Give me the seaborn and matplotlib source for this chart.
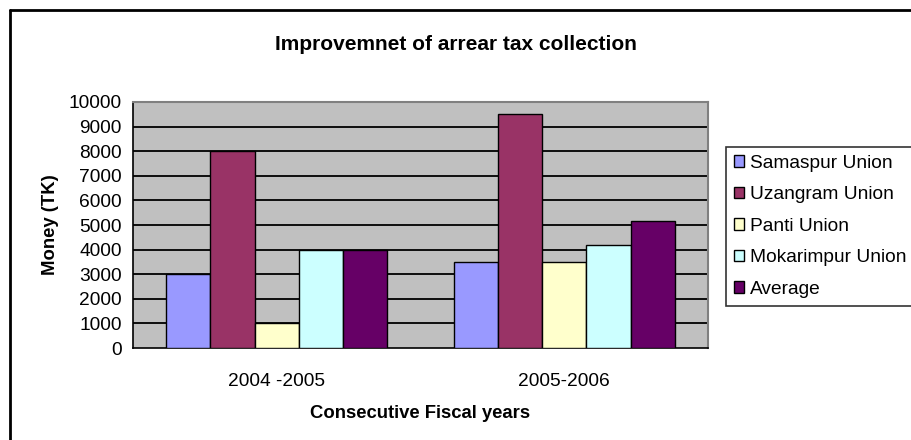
import matplotlib
matplotlib.use("Agg")
import matplotlib.pyplot as plt
import seaborn as sns
import pandas as pd
from matplotlib.lines import Line2D

years = ["2004 -2005", "2005-2006"]
series = ["Samaspur Union", "Uzangram Union", "Panti Union", "Mokarimpur Union", "Average"]
samaspur = [3000, 3500]
uzangram = [8000, 9500]
panti = [1000, 3500]
mokarimpur = [4000, 4200]
average = [4000, 5175]
colors = ["#9999FF", "#993366", "#FFFFCC", "#CCFFFF", "#660066"]

values = [samaspur, uzangram, panti, mokarimpur, average]
rows = []
for s, vals in zip(series, values):
    for y, v in zip(years, vals):
        rows.append({"Year": y, "Series": s, "Value": v})
df = pd.DataFrame(rows)

sns.set_style("white")
plt.rcParams["font.family"] = ["Liberation Sans", "DejaVu Sans"]
plt.rcParams["text.color"] = "black"
plt.rcParams["axes.labelcolor"] = "black"
plt.rcParams["xtick.color"] = "black"
plt.rcParams["ytick.color"] = "black"

fig = plt.figure(figsize=(9.12, 4.4), dpi=100)
ax = fig.add_axes([133/912, 1-348/440, (708-133)/912, (348-102)/440])
ax.set_facecolor("#C0C0C0")

sns.barplot(data=df, x="Year", y="Value", hue="Series", order=years, hue_order=series,
            palette=colors, edgecolor="black", linewidth=1.0, width=0.77,
            saturation=1, ax=ax, errorbar=None, zorder=3)

ax.set_ylim(0, 10000)
ax.set_xlim(-0.5, 1.5)
ax.set_yticks(range(0, 10001, 1000))
for yv in range(1000, 10001, 1000):
    ax.axhline(yv, color="black", lw=1.3, zorder=1)

ax.set_xticks([-0.5, 0.5, 1.5], minor=True)
ax.tick_params(axis="x", which="major", length=0, labelsize=13.8, pad=18)
ax.tick_params(axis="x", which="minor", length=6, width=1, color="black", direction="out")
ax.tick_params(axis="y", length=5, width=1, color="black", direction="out", labelsize=13.8, pad=3)

for side in ["left", "bottom"]:
    ax.spines[side].set_color("black")
    ax.spines[side].set_linewidth(1.2)
for side in ["top", "right"]:
    ax.spines[side].set_color("#808080")
    ax.spines[side].set_linewidth(1.5)

ax.set_xlabel("Consecutive Fiscal years", fontsize=13.3, fontweight="bold", labelpad=11)
ax.set_ylabel("Money (TK)", fontsize=13.3, fontweight="bold", labelpad=7)

fig.text(0.5, 1-44/440, "Improvemnet of arrear tax collection", ha="center", va="center",
         fontsize=15, fontweight="bold")

ax.get_legend().remove()
handles = [plt.Rectangle((0, 0), 1, 1, facecolor=c, edgecolor="black", lw=1) for c in colors]
leg = fig.legend(handles, series, loc="upper left", bbox_to_anchor=(726/912, 1-147/440),
                 frameon=True, fontsize=13.8, handlelength=0.55, handleheight=0.55,
                 handletextpad=0.3, labelspacing=0.76, borderpad=0.4, fancybox=False,
                 borderaxespad=0)
leg.get_frame().set_edgecolor("black")
leg.get_frame().set_linewidth(1.2)

# outer chart border (left and top visible)
fig.add_artist(Line2D([10/912, 10/912], [0, 1-10/440], color="black", lw=2, transform=fig.transFigure))
fig.add_artist(Line2D([10/912, 1], [1-10/440, 1-10/440], color="black", lw=2, transform=fig.transFigure))

fig.savefig("out.png", dpi=100)
